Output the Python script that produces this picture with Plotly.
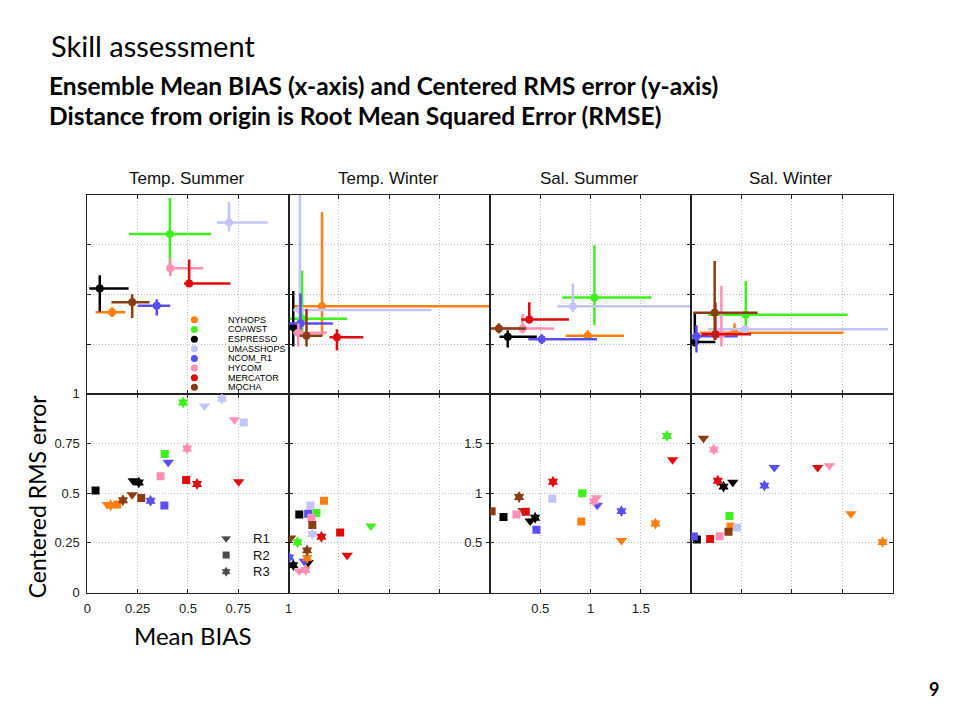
import plotly.graph_objects as go

# ---------------- data ----------------
MODELS = ["NYHOPS", "COAWST", "ESPRESSO", "UMASSHOPS", "NCOM_R1", "HYCOM", "MERCATOR", "MOCHA"]
COLORS = ["#FF7F0F", "#3FF21E", "#000000", "#C4C4FA", "#5A4EF5", "#FF8FB4", "#E00A0A", "#8A3C12"]
PANELS = ["Temp. Summer", "Temp. Winter", "Sal. Summer", "Sal. Winter"]
RUNS = ["R1", "R2", "R3"]

# Top row: ensemble mean with spread (centre, low, high) for each model
TS_X   = [0.123, 0.410, 0.062, 0.704, 0.345, 0.412, 0.506, 0.223]
TS_XLO = [0.041, 0.207, 0.010, 0.645, 0.251, 0.399, 0.481, 0.120]
TS_XHI = [0.189, 0.616, 0.205, 0.897, 0.412, 0.576, 0.711, 0.309]
TS_Y   = [0.410, 0.804, 0.530, 0.862, 0.443, 0.632, 0.555, 0.460]
TS_YLO = [0.386, 0.650, 0.414, 0.816, 0.394, 0.591, 0.540, 0.381]
TS_YHI = [0.435, 0.985, 0.596, 0.966, 0.476, 0.681, 0.676, 0.501]

TW_X   = [0.166, 0.067, 0.023, 0.056, 0.059, 0.048, 0.240, 0.089]
TW_XLO = [0.023, 0.006, 0.000, 0.023, 0.000, 0.023, 0.203, 0.056]
TW_XHI = [1.100, 0.291, 0.047, 0.709, 0.220, 0.190, 0.371, 0.167]
TW_Y   = [0.440, 0.378, 0.336, 0.422, 0.353, 0.307, 0.284, 0.292]
TW_YLO = [0.292, 0.304, 0.238, 0.287, 0.304, 0.238, 0.218, 0.238]
TW_YHI = [0.915, 0.619, 0.517, 1.200, 0.504, 0.353, 0.325, 0.427]

SS_X   = [0.972, 1.038, 0.177, 0.824, 0.515, 0.325, 0.391, 0.089]
SS_XLO = [0.752, 0.719, 0.095, 0.670, 0.381, 0.079, 0.309, 0.007]
SS_XHI = [1.333, 1.606, 0.466, 2.100, 1.064, 0.637, 0.785, 0.358]
SS_Y   = [0.292, 0.484, 0.287, 0.440, 0.274, 0.328, 0.374, 0.328]
SS_YLO = [0.272, 0.345, 0.233, 0.410, 0.251, 0.304, 0.353, 0.304]
SS_YHI = [0.320, 0.747, 0.320, 0.555, 0.300, 0.400, 0.460, 0.355]

SW_X   = [0.430, 0.542, 0.036, 0.535, 0.052, 0.300, 0.240, 0.233]
SW_XLO = [0.085, 0.167, 0.030, 0.167, 0.003, 0.167, 0.100, 0.020]
SW_XHI = [1.514, 1.554, 0.240, 1.957, 0.463, 0.430, 0.594, 0.660]
SW_Y   = [0.307, 0.397, 0.260, 0.325, 0.290, 0.300, 0.299, 0.407]
SW_YLO = [0.287, 0.336, 0.238, 0.310, 0.208, 0.238, 0.271, 0.271]
SW_YHI = [0.355, 0.567, 0.410, 0.340, 0.345, 0.542, 0.460, 0.668]

# Bottom row: individual runs R1, R2, R3 (Mean BIAS, Centered RMS error)
TS_R1_X = [0.099, None, 0.228, 0.582, 0.402, 0.731, 0.752, 0.223]
TS_R1_Y = [0.443, None, 0.562, 0.939, 0.656, 0.869, 0.557, 0.492]
TS_R2_X = [0.149, 0.385, 0.041, 0.777, 0.383, 0.364, 0.491, 0.268]
TS_R2_Y = [0.443, 0.697, 0.513, 0.856, 0.438, 0.585, 0.566, 0.475]
TS_R3_X = [0.116, 0.476, 0.256, 0.669, 0.314, 0.496, 0.545, 0.177]
TS_R3_Y = [0.439, 0.956, 0.554, 0.975, 0.462, 0.725, 0.546, 0.464]

TW_R1_X = [None, 0.409, 0.097, None, 0.077, 0.053, 0.291, 0.010]
TW_R1_Y = [None, 0.335, 0.151, None, 0.158, 0.108, 0.187, 0.274]
TW_R2_X = [0.176, 0.138, 0.053, 0.108, 0.097, 0.113, 0.256, 0.118]
TW_R2_Y = [0.462, 0.400, 0.393, 0.438, 0.396, 0.376, 0.302, 0.340]
TW_R3_X = [0.092, 0.044, 0.023, 0.118, 0.003, 0.085, 0.163, 0.092]
TW_R3_Y = [0.174, 0.253, 0.138, 0.294, 0.177, 0.113, 0.281, 0.212]

SS_R1_X = [1.307, None, 0.400, None, 1.066, 1.059, 1.815, 0.330]
SS_R1_Y = [0.523, None, 0.720, None, 0.878, 0.954, 1.336, 0.826]
SS_R2_X = [0.908, 0.917, 0.135, 0.620, 0.462, 0.264, 0.356, 0.017]
SS_R2_Y = [0.714, 1.000, 0.760, 0.944, 0.632, 0.786, 0.812, 0.819]
SS_R3_X = [1.644, 1.759, 0.449, None, 1.307, 1.033, 0.627, 0.290]
SS_R3_Y = [0.694, 1.576, 0.753, None, 0.819, 0.918, 1.115, 0.961]

SW_R1_X = [1.587, None, 0.413, None, 0.826, 1.372, 1.256, 0.122]
SW_R1_Y = [0.793, None, 1.109, None, 1.257, 1.276, 1.257, 1.553]
SW_R2_X = [0.390, 0.380, 0.056, 0.456, 0.026, 0.281, 0.188, 0.370]
SW_R2_Y = [0.664, 0.770, 0.533, 0.655, 0.563, 0.566, 0.539, 0.612]
SW_R3_X = [1.901, None, 0.321, None, 0.727, 0.225, 0.264, None]
SW_R3_Y = [0.507, None, 1.066, None, 1.076, 1.438, 1.125, None]

X_TICKS_TEMP = [0, 0.25, 0.5, 0.75, 1]
X_TICKS_SAL = [0.5, 1, 1.5]
Y_TICKS_TEMP = [0, 0.25, 0.5, 0.75, 1]
Y_TICKS_SAL = [0.5, 1, 1.5]

# ---------------- layout helpers ----------------
W, H = 960, 720
COL_PX = [(84, 287), (287, 490), (490, 693), (693, 896)]
ROW_PX = [(192, 395), (395, 598)]  # top, bottom
RUN_SYMBOLS = ["triangle-down", "square", "hexagram"]
RUN_SIZES = [10, 8, 9]

def px_x(px):
    return px / W

def px_y(py):
    return 1 - py / H

TOP = [
    (TS_X, TS_XLO, TS_XHI, TS_Y, TS_YLO, TS_YHI),
    (TW_X, TW_XLO, TW_XHI, TW_Y, TW_YLO, TW_YHI),
    (SS_X, SS_XLO, SS_XHI, SS_Y, SS_YLO, SS_YHI),
    (SW_X, SW_XLO, SW_XHI, SW_Y, SW_YLO, SW_YHI),
]
BOTTOM = [
    [(TS_R1_X, TS_R1_Y), (TS_R2_X, TS_R2_Y), (TS_R3_X, TS_R3_Y)],
    [(TW_R1_X, TW_R1_Y), (TW_R2_X, TW_R2_Y), (TW_R3_X, TW_R3_Y)],
    [(SS_R1_X, SS_R1_Y), (SS_R2_X, SS_R2_Y), (SS_R3_X, SS_R3_Y)],
    [(SW_R1_X, SW_R1_Y), (SW_R2_X, SW_R2_Y), (SW_R3_X, SW_R3_Y)],
]
XMAX = [1, 1, 2, 2]

fig = go.Figure()

def ax_name(k, kind):
    return kind if k == 1 else f"{kind}{k}"

# top row traces (k = 1..4)
for c in range(4):
    k = c + 1
    X, XLO, XHI, Y, YLO, YHI = TOP[c]
    for m in range(len(MODELS)):
        fig.add_trace(go.Scatter(
            x=[X[m]], y=[Y[m]], mode="markers",
            marker=dict(symbol="circle", size=8, color=COLORS[m]),
            error_x=dict(type="data", symmetric=False, array=[XHI[m] - X[m]],
                         arrayminus=[X[m] - XLO[m]], color=COLORS[m], thickness=2.5, width=0),
            error_y=dict(type="data", symmetric=False, array=[YHI[m] - Y[m]],
                         arrayminus=[Y[m] - YLO[m]], color=COLORS[m], thickness=2.5, width=0),
            xaxis=ax_name(k, "x"), yaxis=ax_name(k, "y"),
            showlegend=False, hoverinfo="skip"))

# bottom row traces (k = 5..8)
for c in range(4):
    k = c + 5
    for r in range(3):
        X, Y = BOTTOM[c][r]
        for m in range(len(MODELS)):
            if X[m] is None:
                continue
            fig.add_trace(go.Scatter(
                x=[X[m]], y=[Y[m]], mode="markers",
                marker=dict(symbol=RUN_SYMBOLS[r], size=RUN_SIZES[r], color=COLORS[m],
                            line=dict(width=0)),
                xaxis=ax_name(k, "x"), yaxis=ax_name(k, "y"),
                showlegend=False, hoverinfo="skip"))

# legend symbols drawn on an overlay axis in pixel units
LEG1_X, LEG1_Y0, LEG1_DY = 192, 319.5, 9.85
LEG2_X, LEG2_Y0, LEG2_DY = 224, 542.7, 17.0
fig.add_trace(go.Scatter(
    x=[LEG1_X] * len(MODELS), y=[LEG1_Y0 + i * LEG1_DY for i in range(len(MODELS))],
    mode="markers", marker=dict(symbol="circle", size=7, color=COLORS),
    xaxis="x9", yaxis="y9", showlegend=False, hoverinfo="skip", cliponaxis=False))
fig.add_trace(go.Scatter(
    x=[LEG2_X] * 3, y=[LEG2_Y0 + i * LEG2_DY for i in range(3)],
    mode="markers", marker=dict(symbol=RUN_SYMBOLS, size=RUN_SIZES, color="#000000"),
    xaxis="x9", yaxis="y9", showlegend=False, hoverinfo="skip", cliponaxis=False))

TICKFONT = dict(family="Liberation Sans, Arial, sans-serif", size=13, color="#222222")
layout = dict(
    width=W, height=H, margin=dict(l=0, r=0, t=0, b=0),
    paper_bgcolor="white", plot_bgcolor="rgba(0,0,0,0)",
    showlegend=False,
)

for row in range(2):
    for c in range(4):
        k = row * 4 + c + 1
        xa = ax_name(k, "xaxis")
        ya = ax_name(k, "yaxis")
        xd = [px_x(COL_PX[c][0]), px_x(COL_PX[c][1])]
        yd = [px_y(ROW_PX[row][1]), px_y(ROW_PX[row][0])]
        xmax = XMAX[c]
        ymax = 1 if (row == 0 or c < 2) else 2
        if c < 2:
            xt = X_TICKS_TEMP if c == 0 else [0.25, 0.5, 0.75]
        else:
            xt = X_TICKS_SAL
        if ymax == 1:
            yt = Y_TICKS_TEMP if (row == 1 and c == 0) else [0.25, 0.5, 0.75]
        else:
            yt = Y_TICKS_SAL
        show_x = (row == 1 and c in (0, 2))
        show_y = (row == 1 and c in (0, 2))
        common = dict(showline=True, linecolor="#222222", linewidth=1, mirror="ticks",
                      ticks="inside", ticklen=4, tickcolor="#222222", tickwidth=1,
                      showgrid=True, gridcolor="#bdbdbd", griddash="1px,2px", gridwidth=1,
                      zeroline=False, tickfont=TICKFONT, fixedrange=True)
        layout[xa] = dict(common, domain=xd, range=[0, xmax], tickvals=xt,
                          ticktext=[f"{v:g}" for v in xt], showticklabels=show_x,
                          anchor=ax_name(k, "y"), ticklabelstandoff=4)
        layout[ya] = dict(common, domain=yd, range=[0, ymax], tickvals=yt,
                          ticktext=[f"{v:g}" for v in yt], showticklabels=show_y,
                          anchor=ax_name(k, "x"), ticklabelstandoff=4)

layout["xaxis9"] = dict(domain=[0, 1], range=[0, W], visible=False, fixedrange=True, anchor="y9")
layout["yaxis9"] = dict(domain=[0, 1], range=[H, 0], visible=False, fixedrange=True, anchor="x9")

ann = []
TITLE_FONT = "Lato, Carlito, Calibri, sans-serif"
ann.append(dict(text="Skill assessment", x=px_x(45), y=px_y(39), xanchor="left", yanchor="middle",
                font=dict(family=TITLE_FONT, size=29, color="#000000")))
ann.append(dict(text="<b>Ensemble Mean BIAS (x-axis) and Centered RMS error (y-axis)</b>",
                x=px_x(43), y=px_y(80), xanchor="left", yanchor="middle",
                font=dict(family=TITLE_FONT, size=24.5, color="#000000")))
ann.append(dict(text="<b>Distance from origin is Root Mean Squared Error (RMSE)</b>",
                x=px_x(43), y=px_y(111), xanchor="left", yanchor="middle",
                font=dict(family=TITLE_FONT, size=24.5, color="#000000")))
ann.append(dict(text="Centered RMS error", x=px_x(33), y=px_y(500), textangle=-90,
                xanchor="center", yanchor="middle",
                font=dict(family=TITLE_FONT, size=23, color="#000000")))
ann.append(dict(text="Mean BIAS", x=px_x(191), y=px_y(642), xanchor="center", yanchor="middle",
                font=dict(family=TITLE_FONT, size=24, color="#000000")))
ann.append(dict(text="<b>9</b>", x=px_x(938), y=px_y(697), xanchor="center", yanchor="middle",
                font=dict(family=TITLE_FONT, size=18, color="#000000")))
for c in range(4):
    ann.append(dict(text=PANELS[c], x=px_x((COL_PX[c][0] + COL_PX[c][1]) / 2 - 1), y=px_y(175),
                    xanchor="center", yanchor="middle",
                    font=dict(family="Liberation Sans, Arial, sans-serif", size=17, color="#111111")))
for i, name in enumerate(MODELS):
    ann.append(dict(text=name, x=px_x(224), y=px_y(LEG1_Y0 + i * LEG1_DY), xanchor="left",
                    yanchor="middle",
                    font=dict(family="Liberation Sans, Arial, sans-serif", size=9, color="#000000")))
for i, name in enumerate(RUNS):
    ann.append(dict(text=name, x=px_x(249), y=px_y(LEG2_Y0 + i * LEG2_DY), xanchor="left",
                    yanchor="middle",
                    font=dict(family="Liberation Sans, Arial, sans-serif", size=13, color="#111111")))
for a in ann:
    a.update(xref="paper", yref="paper", showarrow=False)
layout["annotations"] = ann

fig.update_layout(**layout)
fig.write_html("out.html", config={"displayModeBar": False},
               post_script="document.body.style.margin='0';document.body.style.overflow='hidden';")
